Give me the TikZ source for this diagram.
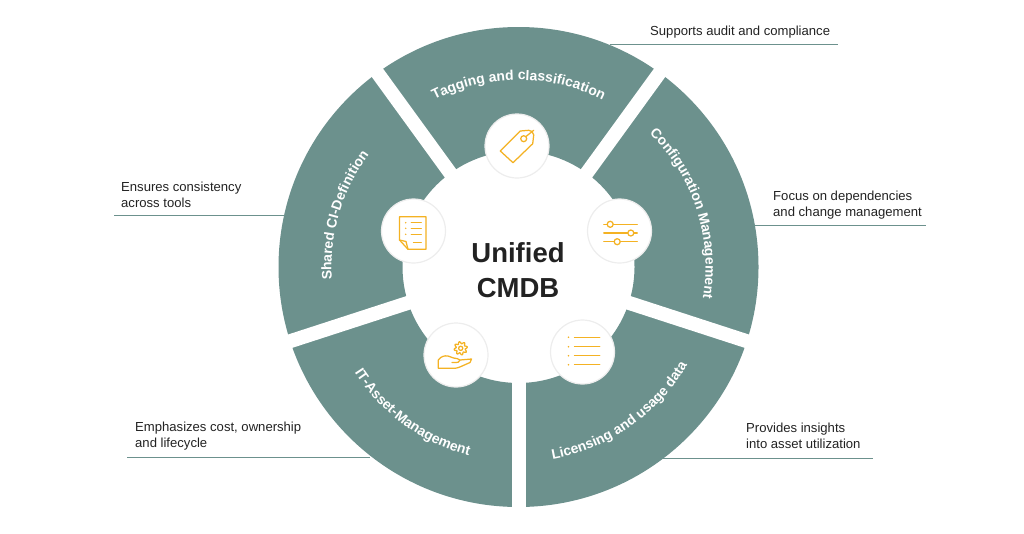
\documentclass[tikz,border=0pt]{standalone}
\usepackage{fontspec}
\setmainfont{Liberation Sans}
\usetikzlibrary{calc}
\usetikzlibrary{decorations.text}
\definecolor{sectorteal}{HTML}{6C918D}
\definecolor{iconyellow}{HTML}{F4B223}
\definecolor{darktext}{HTML}{222222}
\tikzset{
	note/.style={anchor=west,align=left,inner sep=0pt,text=darktext,font=\fontsize{13.1}{16}\selectfont},
	leader/.style={draw=sectorteal,line width=0.8pt},
	gap/.style={draw=white,line width=14pt},
	iconbg/.style={circle,fill=white,draw=black!7,line width=1.2pt,minimum size=64pt,inner sep=0pt},
	icon/.style={draw=iconyellow,line width=1.25pt,line join=round,line cap=round},
	curvetext/.style={decorate,decoration={text along path,text align=center,text={|\fontsize{13.9}{16}\selectfont\bfseries\color{white}|#1}}}
}

\begin{document}
\begin{tikzpicture}[x=1pt,y=1pt]
	\useasboundingbox (0,0) rectangle (1024,-533);
	\coordinate (C) at (518.5,-267);

	% leader lines, under the ring
	\coordinate (topA) at (610,-44);
	\coordinate (topB) at (838,-44);
	\coordinate (rightA) at (750,-225);
	\coordinate (rightB) at (926,-225);
	\coordinate (lowrightA) at (660,-458);
	\coordinate (lowrightB) at (873,-458);
	\coordinate (lowleftA) at (127,-457);
	\coordinate (lowleftB) at (370,-457);
	\coordinate (leftA) at (114,-215);
	\coordinate (leftB) at (285,-215);
	\draw[leader] (topA)--(topB);
	\draw[leader] (rightA)--(rightB);
	\draw[leader] (lowrightA)--(lowrightB);
	\draw[leader] (lowleftA)--(lowleftB);
	\draw[leader] (leftA)--(leftB);

	% ring and the gaps in it
	\fill[sectorteal,even odd rule] (C) circle (240) (C) circle (116);
	\foreach \a in {-90,-18,54,126,198}
		\draw[gap] ($(C)+(\a:110)$)--($(C)+(\a:243)$);

	% curved labels
	\path[curvetext={Tagging and classification}] ($(C)+(124:187)$) arc (124:56:187);
	\path[curvetext={Configuration Management}] ($(C)+(52:187)$) arc (52:-16:187);
	\path[curvetext={Shared CI-Definition}] ($(C)+(197.5:187)$) arc (197.5:129.5:187);
	\path[curvetext={IT-Asset-Management}] ($(C)+(200:195)$) arc (200:268:195);
	\path[curvetext={Licensing and usage data}] ($(C)+(271:195)$) arc (271:339:195);

	\node[align=center,inner sep=0pt,text=darktext,font=\fontsize{27.5}{35}\selectfont\bfseries] (title) at (518,-270) {Unified\\CMDB};

	% notes
	\node[note] (notetop) at (650,-32) {Supports audit and compliance};
	\node[note] (noteright) at (773,-205) {Focus on dependencies\\and change management};
	\node[note] (notelowright) at (746,-436) {Provides insights\\into asset utilization};
	\node[note] (notelowleft) at (135,-436) {Emphasizes cost, ownership\\and lifecycle};
	\node[note] (noteleft) at (121,-195) {Ensures consistency\\across tools};

	% icon discs
	\node[iconbg] (tagdisc) at (517,-146) {};
	\node[iconbg] (sliderdisc) at (619.5,-231) {};
	\node[iconbg] (listdisc) at (582.5,-352) {};
	\node[iconbg] (handdisc) at (456,-355) {};
	\node[iconbg] (docdisc) at (413.5,-231) {};

	% tag
	\begin{scope}[shift={(tagdisc.center)}]
		\draw[icon] (-16.7,-5)--(-4,-16.7)--(15.7,2.3)--(16.7,11)..controls (16.7,14) and (14,15.7) .. (11.7,15.7)--(3.3,15)--cycle;
		\draw[icon] (6.7,7.3) circle (3);
		\draw[icon] (8.8,9.4)--(16.7,15.7);
	\end{scope}

	% sliders
	\begin{scope}[shift={(sliderdisc.center)}]
		\foreach \y/\k in {6.7/-9.3,-2/11.3,-10.7/-2.3}{
			\draw[icon] (-15.7,\y)--(17.7,\y);
			\draw[icon,fill=white] (\k,\y) circle (3);
		}
	\end{scope}

	% list
	\begin{scope}[shift={(listdisc.center)}]
		\foreach \y in {14.7,5.3,-3.7,-12.7}{
			\draw[icon] (-8,\y)--(17.3,\y);
			\fill[iconyellow] (-14,\y) circle (0.9);
		}
	\end{scope}

	% hand with gear
	\begin{scope}[shift={(handdisc.center)}]
		\draw[icon] (-17.7,-13.3)--(-17.7,-5)..controls (-15,-1) and (-11,-0.5) .. (-8,-1)--(-2.5,-3)..controls (0,-3.5) and (3,-3.5) .. (4,-5)--(15.5,-4)--(14,-7.5)..controls (8,-10) and (2,-13.3) .. (-1,-13.3)--cycle;
		\draw[icon] (4,-5)..controls (3,-7.5) .. (-4,-7.5);
		\draw[icon,shift={(4.7,6.7)}] plot[domain=0:360,samples=73] (\x:{5.6+1.1*sin(8*\x)});
		\draw[icon] (4.7,6.7) circle (2.1);
	\end{scope}

	% document
	\begin{scope}[shift={(docdisc.center)}]
		\draw[icon] (-5.5,-18.3)--(12.5,-18.3)--(12.5,14.3)--(-14,14.3)--(-14,-9)--cycle;
		\draw[icon] (-14,-9)--(-7.5,-10.5)--(-5.5,-18.3);
		\foreach \y in {8.3,2.7,-3.3}{
			\draw[icon] (-2.2,\y)--(7.8,\y);
			\fill[iconyellow] (-7.8,\y) circle (0.8);
		}
		\draw[icon] (0,-11.7)--(7.8,-11.7);
	\end{scope}
\end{tikzpicture}
\end{document}
